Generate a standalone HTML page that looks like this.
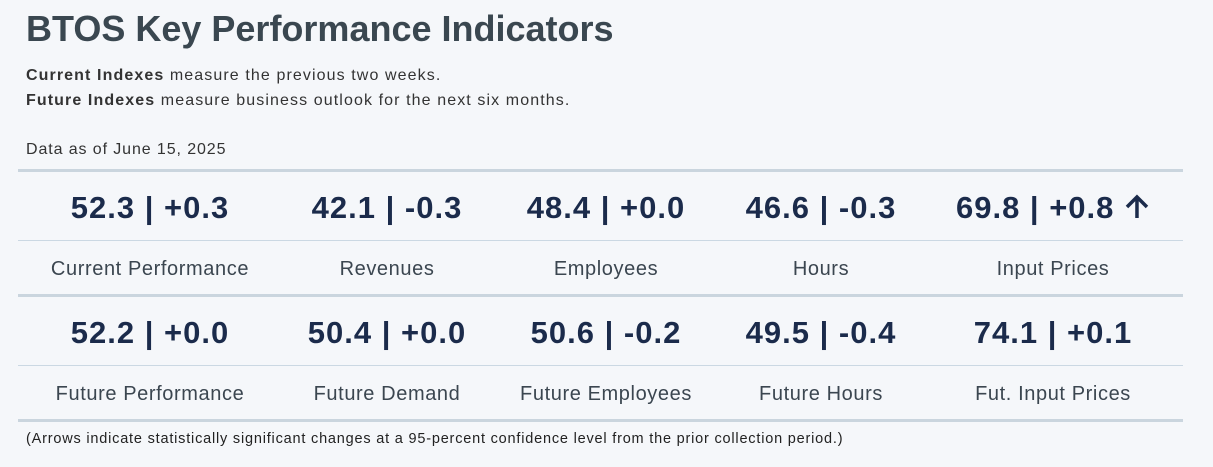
<!DOCTYPE html>
<html><head><meta charset="utf-8"><style>
body{margin:0;width:1213px;height:467px;background:#f5f7fa;font-family:"Liberation Sans",sans-serif;position:relative;overflow:hidden;color:#3b4650}
.abs{position:absolute;white-space:nowrap}
h1{position:absolute;left:26px;top:8px;margin:0;font-size:36px;font-weight:bold;color:#3a4750}
.sub{font-size:16px;color:#333;letter-spacing:1.1px}
.thick{position:absolute;left:18px;width:1165px;height:3px;background:#cad5de}
.thin{position:absolute;left:18px;width:1165px;height:1px;background:#cbd8e3}
.val{position:absolute;transform:translateX(-50%);font-size:31px;font-weight:bold;color:#1b2b4b;white-space:nowrap;letter-spacing:1px}
.lab{position:absolute;transform:translateX(-50%);font-size:20px;color:#3b4650;white-space:nowrap;letter-spacing:0.6px}
</style></head><body>
<h1>BTOS Key Performance Indicators</h1>
<div class="abs sub" style="left:26px;top:67px"><b>Current Indexes</b> measure the previous two weeks.</div>
<div class="abs sub" style="left:26px;top:92px"><b>Future Indexes</b> measure business outlook for the next six months.</div>
<div class="abs sub" style="left:26px;top:141px;letter-spacing:0.9px">Data as of June 15, 2025</div>
<div class="thick" style="top:169px"></div>
<div class="thin" style="top:240px"></div>
<div class="thick" style="top:294px"></div>
<div class="thin" style="top:365px"></div>
<div class="thick" style="top:419px"></div>
<div class="abs" style="left:26px;top:431px;font-size:14.5px;color:#222;letter-spacing:0.8px">(Arrows indicate statistically significant changes at a 95-percent confidence level from the prior collection period.)</div>
<script>
const currentLabels=["Current Performance","Revenues","Employees","Hours","Input Prices"];
const currentValues=[52.3,42.1,48.4,46.6,69.8];
const currentChanges=[0.3,-0.3,0.0,-0.3,0.8];
const currentArrows=["","","","","🡑"];
const futureLabels=["Future Performance","Future Demand","Future Employees","Future Hours","Fut. Input Prices"];
const futureValues=[52.2,50.4,50.6,49.5,74.1];
const futureChanges=[0.0,0.0,-0.2,-0.4,0.1];
const futureArrows=["","","","",""];
const centers=[150,387,606,821,1053];
function fmt(c){return (c<0?"-":"+")+Math.abs(c).toFixed(1);}
function row(labels,vals,chg,arr,vy,ly,prefix){
  labels.forEach((l,i)=>{
    const v=document.createElement('div');v.className='val';
    v.style.left=centers[i]+'px';v.style.top=vy+'px';
    v.textContent=vals[i].toFixed(1)+' | '+fmt(chg[i]);
    if(arr[i]){
      const s=document.createElement('span');
      s.innerHTML=' <svg width="26" height="26" viewBox="0 0 26 26" style="vertical-align:-2px"><path d="M13 24V3M3 13L13 3L23 13" stroke="#1b2b4b" stroke-width="3.5" fill="none"/></svg>';
      
      
      v.appendChild(s);
    }
    
    
    document.body.appendChild(v);
    const t=document.createElement('div');t.className='lab';
    t.style.left=centers[i]+'px';t.style.top=ly+'px';t.textContent=l;
    
    
    document.body.appendChild(t);
  });
}
row(currentLabels,currentValues,currentChanges,currentArrows,190,258,'current');
row(futureLabels,futureValues,futureChanges,futureArrows,315,383,'future');
</script>
</body></html>
